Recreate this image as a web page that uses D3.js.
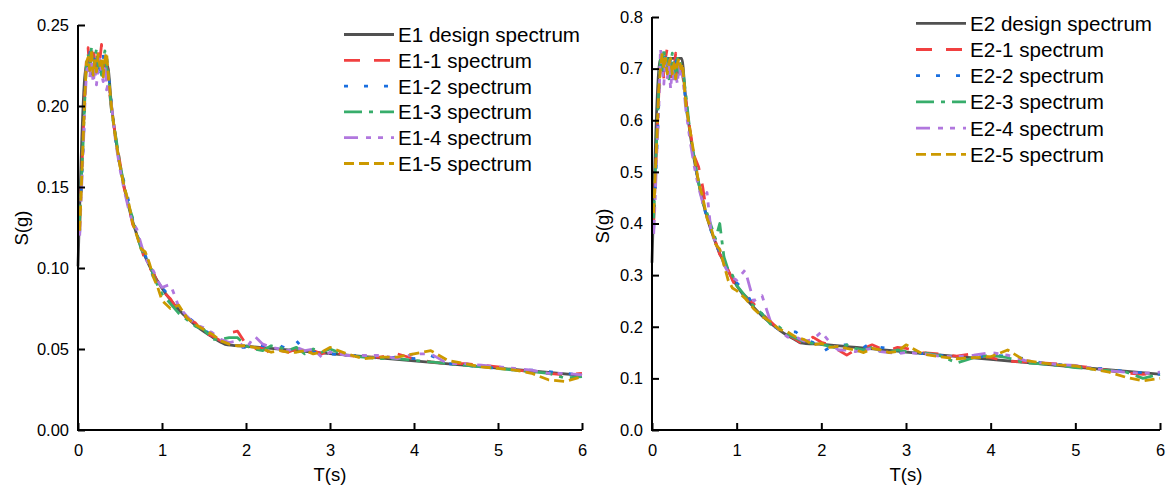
<!DOCTYPE html>
<html>
<head>
<meta charset="utf-8">
<script src="https://cdn.jsdelivr.net/npm/d3@7"></script>
<style>
  html, body { margin: 0; padding: 0; background: #fff; }
  svg { display: block; font-family: "Liberation Sans", Arial, sans-serif; }
</style>
</head>
<body>
<svg id="chart" width="1168" height="488"></svg>
<script>
// ---------- data ----------
const xTicks = [0, 1, 2, 3, 4, 5, 6];
const yTicksE1 = [0, 0.05, 0.10, 0.15, 0.20, 0.25];
const yTicksE2 = [0, 0.1, 0.2, 0.3, 0.4, 0.5, 0.6, 0.7, 0.8];

// periods of the design spectra
const designT = [0, 0.1, 0.35, 0.4, 0.45, 0.5, 0.55, 0.6, 0.65, 0.7, 0.75, 0.8, 0.9, 1.0, 1.1, 1.2, 1.3, 1.4, 1.5, 1.6, 1.7, 1.75, 2, 3, 4, 5, 6];
const designE1 = [0.101, 0.225, 0.225, 0.1995, 0.1795, 0.1632, 0.1498, 0.1385, 0.1289, 0.1206, 0.1133, 0.1069, 0.0962, 0.0875, 0.0803, 0.0742, 0.0691, 0.0646, 0.0607, 0.0573, 0.0542, 0.0529, 0.0517, 0.0472, 0.0427, 0.0382, 0.0337];
const designE2 = [0.324, 0.72, 0.72, 0.638, 0.574, 0.522, 0.479, 0.443, 0.412, 0.386, 0.363, 0.342, 0.308, 0.280, 0.257, 0.238, 0.221, 0.207, 0.194, 0.183, 0.174, 0.169, 0.166, 0.151, 0.137, 0.122, 0.108];

// periods of the record spectra
const recT = [0.02, 0.04, 0.06, 0.08, 0.10, 0.12, 0.14, 0.16, 0.18, 0.20,
              0.22, 0.24, 0.26, 0.28, 0.30, 0.32, 0.34, 0.36, 0.40, 0.45,
              0.50, 0.55, 0.60, 0.65, 0.70, 0.75, 0.80, 0.85, 0.90, 0.95,
              1.0, 1.1, 1.2, 1.3, 1.4, 1.5, 1.6, 1.7, 1.8, 1.9,
              2.0, 2.1, 2.2, 2.3, 2.4, 2.5, 2.6, 2.7, 2.8, 2.9,
              3.0, 3.2, 3.4, 3.6, 3.8, 4.0, 4.2, 4.4, 4.6, 4.8,
              5.0, 5.2, 5.4, 5.6, 5.8, 6.0];

const E1_1 = [.125,.152,.180,.206,.229,.236,.221,.232,.238,.227,
              .219,.234,.228,.238,.223,.231,.226,.216,.197,.180,
              .165,.149,.140,.127,.122,.113,.104,.100,.097,.090,
              .086,.081,.073,.069,.066,.060,.058,.055,.060,.061,
              .053,.050,.051,.047,.049,.048,.050,.048,.049,.047,
              .049,.046,.045,.045,.047,.044,.042,.041,.041,.040,
              .039,.037,.036,.035,.034,.035];
const E1_2 = [.122,.148,.172,.199,.222,.228,.233,.218,.226,.231,
              .222,.229,.216,.225,.232,.220,.231,.222,.201,.178,
              .162,.153,.142,.130,.121,.114,.108,.101,.094,.092,
              .088,.082,.076,.070,.066,.062,.058,.056,.053,.051,
              .051,.053,.052,.051,.052,.050,.055,.049,.048,.048,
              .047,.046,.046,.044,.045,.044,.046,.041,.040,.039,
              .038,.037,.037,.036,.035,.034];
const E1_3 = [.128,.155,.176,.203,.226,.232,.225,.236,.221,.230,
              .235,.224,.230,.219,.228,.234,.223,.221,.196,.181,
              .164,.151,.139,.131,.121,.112,.107,.103,.095,.089,
              .084,.078,.072,.068,.064,.062,.056,.056,.057,.057,
              .052,.050,.049,.052,.051,.049,.051,.047,.050,.048,
              .050,.046,.045,.044,.044,.043,.042,.041,.040,.039,
              .038,.037,.036,.035,.032,.033];
const E1_4 = [.120,.146,.170,.198,.220,.226,.217,.229,.214,.222,
              .213,.224,.229,.220,.215,.226,.210,.214,.200,.177,
              .161,.148,.137,.128,.124,.115,.106,.102,.098,.092,
              .088,.090,.076,.070,.065,.063,.060,.056,.054,.055,
              .050,.058,.053,.051,.050,.049,.051,.049,.050,.045,
              .048,.046,.046,.046,.044,.047,.047,.041,.041,.040,
              .039,.038,.037,.035,.035,.034];
const E1_5 = [.123,.150,.177,.204,.227,.230,.222,.235,.219,.228,
              .221,.232,.225,.230,.218,.229,.233,.220,.199,.179,
              .163,.150,.141,.128,.120,.112,.110,.103,.094,.088,
              .080,.075,.077,.069,.065,.062,.059,.055,.053,.052,
              .052,.051,.050,.048,.049,.048,.048,.049,.047,.048,
              .051,.047,.044,.045,.045,.047,.049,.043,.041,.039,
              .038,.037,.035,.031,.030,.033];

const E2_1 = [.40,.49,.57,.65,.71,.73,.68,.72,.74,.70,
              .67,.72,.70,.73,.69,.71,.72,.69,.64,.58,
              .53,.51,.47,.415,.39,.365,.34,.33,.31,.29,
              .275,.26,.245,.225,.21,.195,.185,.175,.165,.18,
              .17,.165,.155,.145,.155,.158,.165,.158,.155,.16,
              .158,.150,.147,.143,.148,.140,.133,.132,.130,.128,
              .124,.121,.115,.110,.108,.109];
const E2_2 = [.39,.47,.55,.63,.70,.72,.69,.73,.71,.69,
              .72,.70,.68,.71,.73,.70,.69,.70,.63,.57,
              .52,.48,.44,.41,.385,.36,.345,.325,.31,.29,
              .285,.27,.24,.225,.205,.195,.19,.19,.175,.17,
              .15,.16,.165,.165,.165,.16,.17,.16,.158,.15,
              .150,.148,.145,.141,.140,.145,.143,.138,.130,.127,
              .123,.120,.118,.113,.111,.108];
const E2_3 = [.41,.50,.58,.66,.72,.69,.74,.70,.72,.68,
              .71,.73,.70,.68,.72,.69,.71,.70,.65,.575,
              .525,.48,.44,.42,.395,.37,.40,.335,.31,.30,
              .28,.26,.24,.225,.205,.20,.185,.178,.17,.168,
              .166,.162,.158,.165,.158,.155,.16,.152,.150,.155,
              .152,.150,.144,.130,.140,.145,.140,.130,.128,.125,
              .121,.118,.115,.112,.100,.108];
const E2_4 = [.38,.46,.55,.62,.74,.70,.67,.72,.68,.71,
              .66,.70,.68,.69,.67,.71,.68,.69,.62,.56,
              .51,.47,.44,.46,.38,.365,.35,.32,.305,.295,
              .29,.31,.25,.26,.21,.195,.18,.18,.172,.175,
              .19,.17,.155,.155,.152,.155,.158,.152,.150,.148,
              .150,.148,.143,.142,.145,.150,.145,.135,.130,.127,
              .125,.120,.115,.112,.110,.112];
const E2_5 = [.42,.50,.57,.66,.70,.73,.70,.72,.69,.71,
              .72,.69,.71,.68,.71,.72,.70,.71,.63,.58,
              .53,.48,.45,.41,.39,.36,.35,.32,.29,.275,
              .27,.255,.235,.22,.21,.195,.19,.18,.175,.165,
              .168,.16,.162,.158,.155,.150,.158,.155,.150,.152,
              .165,.147,.142,.138,.140,.142,.155,.135,.130,.126,
              .124,.118,.112,.102,.095,.100];

const legendE1 = ["E1 design spectrum", "E1-1 spectrum", "E1-2 spectrum", "E1-3 spectrum", "E1-4 spectrum", "E1-5 spectrum"];
const legendE2 = ["E2 design spectrum", "E2-1 spectrum", "E2-2 spectrum", "E2-3 spectrum", "E2-4 spectrum", "E2-5 spectrum"];

// ---------- styles ----------
const colors = ["#515151", "#F14040", "#1A6FDF", "#37AD6B", "#B177DE", "#CC9900"];
const dashes = [null, "16,14", "4,16", "18,7,4,7", "14,8,5,7,5,8", "10,5"];
const widths = [2.8, 2.8, 2.8, 2.8, 2.8, 2.8];

const svg = d3.select("#chart");

function panel(cfg) {
  const x = d3.scaleLinear().domain([0, 6]).range([cfg.x0, cfg.x1]);
  const y = d3.scaleLinear().domain([0, cfg.ymax]).range([430, cfg.ytop]);
  const g = svg.append("g");

  const series = [
    {t: designT, v: cfg.design, curve: d3.curveMonotoneX},
    ...cfg.records.map(r => ({t: recT, v: r, curve: d3.curveLinear}))
  ];
  series.forEach((s, i) => {
    const pts = s.t.map((t, j) => [t, s.v[j]]);
    const line = d3.line().x(d => x(d[0])).y(d => y(d[1])).curve(s.curve);
    g.append("path")
      .attr("d", line(pts))
      .attr("fill", "none")
      .attr("stroke", colors[i])
      .attr("stroke-width", widths[i])
      .attr("stroke-dasharray", dashes[i])
      .attr("stroke-linejoin", "round");
  });

  // axes
  const xa = g.append("g").attr("transform", `translate(0,430)`)
    .call(d3.axisBottom(x).tickValues(xTicks).tickSizeInner(-7).tickSizeOuter(0).tickPadding(14).tickFormat(d3.format("d")));
  const ya = g.append("g").attr("transform", `translate(${cfg.x0},0)`)
    .call(d3.axisLeft(y).tickValues(cfg.yTicks).tickSizeInner(-7).tickSizeOuter(0).tickPadding(9).tickFormat(d3.format(cfg.fmt)));
  [xa, ya].forEach(a => {
    a.select(".domain").attr("stroke", "#000").attr("stroke-width", 2);
    a.selectAll(".tick line").attr("stroke", "#000").attr("stroke-width", 2);
    a.selectAll("text").attr("fill", "#000").style("font-size", "16.5px").style("font-family", "Liberation Sans, Arial, sans-serif");
  });
  ya.select(".domain").attr("d", `M0,431V${cfg.ytop}`);
  xa.select(".domain").attr("d", `M${cfg.x0 - 1},0H${cfg.x1}`);

  g.append("text").attr("x", (cfg.x0 + cfg.x1) / 2).attr("y", 481)
    .attr("text-anchor", "middle").style("font-size", "18.5px").text("T(s)");
  g.append("text").attr("transform", `translate(${cfg.ylabX},${cfg.ylabY}) rotate(-90)`)
    .attr("text-anchor", "middle").style("font-size", "18.5px").text("S(g)");

  // legend
  const lg = g.append("g");
  cfg.legend.forEach((name, i) => {
    const yy = cfg.legY + i * cfg.legDy;
    lg.append("line").attr("x1", cfg.legX).attr("x2", cfg.legX + 50).attr("y1", yy).attr("y2", yy)
      .attr("stroke", colors[i]).attr("stroke-width", 2.8).attr("stroke-dasharray", dashes[i]);
    lg.append("text").attr("x", cfg.legX + 54).attr("y", yy).attr("dy", "0.36em")
      .style("font-size", "20.6px").attr("fill", "#000").text(name);
  });
}

panel({x0: 78, x1: 582, ymax: 0.25, ytop: 25, yTicks: yTicksE1, fmt: ".2f",
       design: designE1, records: [E1_1, E1_2, E1_3, E1_4, E1_5],
       ylabX: 28, ylabY: 228, legend: legendE1, legX: 344, legY: 34.5, legDy: 25.8});
panel({x0: 652, x1: 1160, ymax: 0.8, ytop: 17, yTicks: yTicksE2, fmt: ".1f",
       design: designE2, records: [E2_1, E2_2, E2_3, E2_4, E2_5],
       ylabX: 609, ylabY: 226, legend: legendE2, legX: 916, legY: 23.3, legDy: 26.2});
</script>
</body>
</html>
